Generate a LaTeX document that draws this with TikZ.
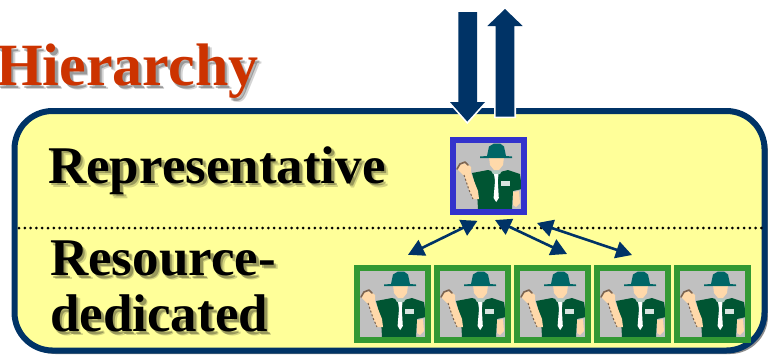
\documentclass[tikz,border=0pt]{standalone}
\usepackage{fontspec}
\setmainfont{Liberation Serif}
\usetikzlibrary{arrows.meta,calc}
\definecolor{navy}{RGB}{0,51,102}
\definecolor{panelfill}{RGB}{255,255,153}
\definecolor{titlered}{RGB}{204,51,0}
\definecolor{manblue}{RGB}{51,51,204}
\definecolor{mangreen}{RGB}{51,153,51}
\definecolor{shirt}{RGB}{0,85,51}
\definecolor{hat}{RGB}{0,102,102}
\definecolor{skin}{RGB}{255,217,170}
\definecolor{fingers}{RGB}{125,100,80}
\definecolor{icongray}{RGB}{192,192,192}
\tikzset{
  x=1pt,y=-1pt,
  man/.pic={
    \fill[icongray] (6,6) rectangle (71,72);
    % shirt
    \fill[shirt] (22,36) -- (38,33) -- (45,35) -- (50,35) -- (58,33) -- (70,37) -- (72,52) -- (63,54) -- (62,72) -- (28,72) -- (27,55) -- cycle;
    % raised arm and hand
    \fill[skin] (14,38) -- (21,36) -- (24,44) -- (28,54) -- (29,62) -- (23,62) -- (19,53) -- cycle;
    \fill[skin] (9,28) -- (16,26) -- (21,30) -- (21,36) -- (14,39) -- (8,33) -- cycle;
    \draw[fingers,line width=1.6pt,line cap=round,line join=round] (7,32) -- (10,27) -- (15,25) -- (18,28);
    \draw[fingers,line width=1pt,dash pattern=on 2pt off 2pt] (14,38) -- (19,53) -- (23,62);
    % face and neck
    \fill[skin] (39,20) -- (54,20) -- (53,28) -- (49,33) -- (44,33) -- (40,28) -- cycle;
    % other arm
    \fill[skin] (63,55) -- (69,54) -- (70,66) -- (66,70) -- (63,68) -- cycle;
    % tie, collar, pocket
    \fill[white!70!shirt] (41,33.5) -- (52,33.5) -- (50,37) -- (43,37) -- cycle;
    \fill[white] (44,37) -- (48.5,37) -- (47.8,44) -- (48.8,61) -- (46.2,65) -- (43.6,61) -- (45,44) -- cycle;
    \fill[white!85!shirt] (51,44) rectangle (60,49);
    % hat
    \fill[hat] (30,19.5) -- (37,19) -- (39,9.5) -- (44,6.5) -- (50,6.5) -- (54,9.5) -- (56,19) -- (62,19.5) -- (62,21) -- (30,21) -- cycle;
  },
  framebox/.style={minimum width=71pt,minimum height=72pt,line width=6pt,inner sep=0pt,outer sep=0pt,draw=#1,anchor=center},
  labeltext/.style={font=\fontsize{53}{53}\selectfont\bfseries,anchor=base west,inner sep=0pt,text=#1},
  linkarrow/.style={draw=navy,line width=2.6pt,{Triangle[length=16pt,width=17pt]}-{Triangle[length=16pt,width=17pt]}},
  bigarrow/.style={fill=navy},
  bigarrowedge/.style={draw=white,line width=3.4pt,line join=miter},
}
% #1 x, #2 y, #3 font size, #4 name, #5 text
\newcommand{\softtext}[5]{%
  \node[font=\fontsize{#3}{#3}\selectfont\bfseries,anchor=base west,inner sep=0pt,text=black,opacity=.17] (#4a) at (#1+4,#2+4) {#5};
  \node[font=\fontsize{#3}{#3}\selectfont\bfseries,anchor=base west,inner sep=0pt,text=black,opacity=.28] (#4b) at (#1+2.6,#2+2.6) {#5};
}
\begin{document}
\begin{tikzpicture}
\useasboundingbox (0,0) rectangle (768,354);
\clip (0,0) rectangle (768,354);
% panel
\fill[black!45,rounded corners=38pt] (17.5,114) rectangle (768,354);
\draw[navy,line width=6pt,fill=panelfill,rounded corners=38pt] (14.5,111) rectangle (764.5,350.5);
\draw[line width=3pt,dash pattern=on 0pt off 5.8pt,line cap=round,black] (19,228) -- (762,228);
% texts
\softtext{-4}{85.5}{60}{titleshadow}{Hierarchy}
\node[labeltext=titlered,font=\fontsize{60}{60}\selectfont\bfseries] (title) at (-4,85.5) {Hierarchy};
\softtext{48}{183}{53}{repshadow}{Representative}
\node[labeltext=black] (rep) at (48,183) {Representative};
\softtext{50}{275.5}{53}{resashadow}{Resource-}
\node[labeltext=black] (res1) at (50,275.5) {Resource-};
\softtext{50}{331.5}{53}{resbshadow}{dedicated}
\node[labeltext=black] (res2) at (50,331.5) {dedicated};
% boxes
\foreach \n/\xx in {a/354,b/434,c/514,d/594,e/674}{
  \pic at (\xx,265) {man};
  \node[framebox=mangreen] (\n) at (\xx+38.5,304) {};
}
\pic at (450,137) {man};
\node[framebox=manblue] (top) at (488.5,176) {};
% big arrows
\foreach \st in {bigarrowedge,bigarrow}{
  \path[\st] (458.3,12) -- (477,12) -- (477,102) -- (485,102) -- (467.3,121.5) -- (450,102) -- (458.3,102) -- cycle;
  \path[\st] (495.7,116.5) -- (514.3,116.5) -- (514.3,26) -- (522.7,26) -- (505,9) -- (487.3,26) -- (495.7,26) -- cycle;
}
% link arrows
\coordinate (l1a) at (477.5,220.8); \coordinate (l1b) at (408,254.8);
\coordinate (l2a) at (495,220);     \coordinate (l2b) at (567,254);
\coordinate (l3a) at (537,223);     \coordinate (l3b) at (632,255);
\draw[linkarrow] (l1a) -- (l1b);
\draw[linkarrow] (l2a) -- (l2b);
\draw[linkarrow] (l3a) -- (l3b);
\end{tikzpicture}
\end{document}
